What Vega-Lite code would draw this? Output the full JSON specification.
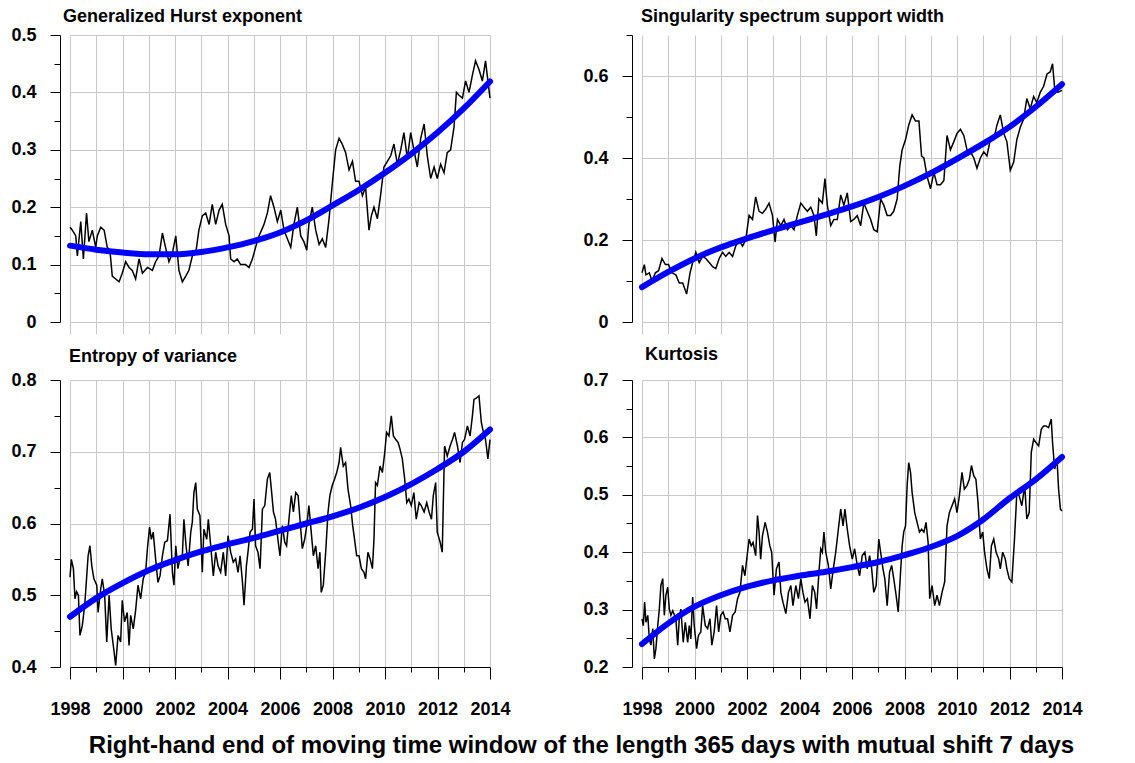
{
  "$schema": "https://vega.github.io/schema/vega-lite/v6.json",
  "background": "white",
  "padding": {"left": 10, "top": 8, "right": 5, "bottom": 5},
  "config": {
    "font": "Liberation Sans",
    "view": {"stroke": null},
    "axis": {
      "domainColor": "black", "tickColor": "black", "labelColor": "black",
      "labelFontSize": 18, "labelFontWeight": "bold", "gridColor": "#c8c8c8",
      "labelOverlap": false, "labelFlush": false, "tickWidth": 1, "domainWidth": 1, "gridWidth": 1
    },
    "axisY": {"labelPadding": 14},
    "axisX": {"labelPadding": 21}
  },
  "title": {"text": "Right-hand end of moving time window of the length 365 days with mutual shift 7 days", "orient": "bottom", "anchor": "middle", "frame": "bounds", "dx": 35, "fontSize": 24, "fontWeight": "bold", "color": "black", "offset": 16},
  "datasets": {
    "hr": [
      {"t":1998.00,"v":0.165},{"t":1998.09,"v":0.16},{"t":1998.22,"v":0.15},{"t":1998.28,"v":0.115},{"t":1998.41,"v":0.175},{"t":1998.51,"v":0.11},{"t":1998.63,"v":0.19},{"t":1998.72,"v":0.14},{"t":1998.85,"v":0.16},{"t":1998.98,"v":0.13},
      {"t":1999.04,"v":0.15},{"t":1999.17,"v":0.165},{"t":1999.30,"v":0.16},{"t":1999.42,"v":0.13},{"t":1999.52,"v":0.125},{"t":1999.61,"v":0.08},{"t":1999.74,"v":0.075},{"t":1999.87,"v":0.07},{"t":1999.99,"v":0.085},
      {"t":2000.12,"v":0.105},{"t":2000.25,"v":0.095},{"t":2000.37,"v":0.09},{"t":2000.50,"v":0.075},{"t":2000.63,"v":0.11},{"t":2000.76,"v":0.085},{"t":2000.95,"v":0.095},
      {"t":2001.14,"v":0.09},{"t":2001.26,"v":0.105},{"t":2001.39,"v":0.115},{"t":2001.52,"v":0.155},{"t":2001.64,"v":0.13},{"t":2001.77,"v":0.105},{"t":2001.90,"v":0.12},
      {"t":2002.03,"v":0.15},{"t":2002.15,"v":0.09},{"t":2002.28,"v":0.07},{"t":2002.41,"v":0.08},{"t":2002.53,"v":0.09},{"t":2002.66,"v":0.115},{"t":2002.79,"v":0.12},{"t":2002.91,"v":0.16},
      {"t":2003.04,"v":0.185},{"t":2003.17,"v":0.19},{"t":2003.30,"v":0.17},{"t":2003.42,"v":0.205},{"t":2003.55,"v":0.17},{"t":2003.68,"v":0.195},{"t":2003.80,"v":0.205},{"t":2003.93,"v":0.17},
      {"t":2004.06,"v":0.15},{"t":2004.12,"v":0.11},{"t":2004.25,"v":0.105},{"t":2004.37,"v":0.11},{"t":2004.50,"v":0.10},{"t":2004.69,"v":0.10},{"t":2004.82,"v":0.095},{"t":2004.95,"v":0.11},
      {"t":2005.07,"v":0.13},{"t":2005.20,"v":0.15},{"t":2005.39,"v":0.17},{"t":2005.52,"v":0.19},{"t":2005.64,"v":0.22},{"t":2005.77,"v":0.20},{"t":2005.90,"v":0.175},
      {"t":2006.03,"v":0.195},{"t":2006.15,"v":0.16},{"t":2006.28,"v":0.145},{"t":2006.41,"v":0.13},{"t":2006.53,"v":0.17},{"t":2006.66,"v":0.20},{"t":2006.79,"v":0.15},{"t":2006.91,"v":0.14},
      {"t":2007.02,"v":0.125},{"t":2007.10,"v":0.17},{"t":2007.23,"v":0.20},{"t":2007.36,"v":0.16},{"t":2007.49,"v":0.135},{"t":2007.61,"v":0.145},{"t":2007.74,"v":0.13},{"t":2007.87,"v":0.18},{"t":2007.99,"v":0.24},
      {"t":2008.12,"v":0.30},{"t":2008.25,"v":0.32},{"t":2008.37,"v":0.31},{"t":2008.50,"v":0.295},{"t":2008.63,"v":0.265},{"t":2008.76,"v":0.28},{"t":2008.88,"v":0.245},
      {"t":2009.01,"v":0.245},{"t":2009.14,"v":0.22},{"t":2009.26,"v":0.235},{"t":2009.39,"v":0.16},{"t":2009.48,"v":0.185},{"t":2009.58,"v":0.20},{"t":2009.71,"v":0.18},{"t":2009.83,"v":0.22},{"t":2009.96,"v":0.27},
      {"t":2010.09,"v":0.28},{"t":2010.22,"v":0.29},{"t":2010.34,"v":0.31},{"t":2010.47,"v":0.275},{"t":2010.60,"v":0.30},{"t":2010.72,"v":0.33},{"t":2010.85,"v":0.285},{"t":2010.98,"v":0.33},
      {"t":2011.10,"v":0.30},{"t":2011.23,"v":0.27},{"t":2011.36,"v":0.32},{"t":2011.49,"v":0.345},{"t":2011.61,"v":0.29},{"t":2011.74,"v":0.25},{"t":2011.87,"v":0.27},{"t":2011.99,"v":0.25},
      {"t":2012.12,"v":0.275},{"t":2012.25,"v":0.26},{"t":2012.37,"v":0.295},{"t":2012.50,"v":0.30},{"t":2012.63,"v":0.34},{"t":2012.72,"v":0.40},{"t":2012.82,"v":0.395},{"t":2012.95,"v":0.39},
      {"t":2013.07,"v":0.42},{"t":2013.20,"v":0.40},{"t":2013.33,"v":0.43},{"t":2013.45,"v":0.455},{"t":2013.58,"v":0.44},{"t":2013.71,"v":0.42},{"t":2013.83,"v":0.455},{"t":2013.92,"v":0.42},{"t":2014.00,"v":0.39}
    ],
    "ht": [
      {"t":1998,"v":0.133},{"t":1999,"v":0.126},{"t":2000,"v":0.121},{"t":2001,"v":0.118},{"t":2002,"v":0.118},{"t":2003,"v":0.122},{"t":2004,"v":0.13},{"t":2005,"v":0.141},{"t":2006,"v":0.156},
      {"t":2007,"v":0.177},{"t":2008,"v":0.203},{"t":2009,"v":0.23},{"t":2010,"v":0.26},{"t":2011,"v":0.293},{"t":2012,"v":0.33},{"t":2013,"v":0.372},{"t":2014,"v":0.419}
    ],
    "sr": [
      {"t":1998.00,"v":0.12},{"t":1998.09,"v":0.14},{"t":1998.15,"v":0.115},{"t":1998.28,"v":0.12},{"t":1998.38,"v":0.10},{"t":1998.51,"v":0.12},{"t":1998.63,"v":0.125},{"t":1998.76,"v":0.155},{"t":1998.89,"v":0.14},
      {"t":1999.01,"v":0.14},{"t":1999.14,"v":0.12},{"t":1999.29,"v":0.115},{"t":1999.42,"v":0.095},{"t":1999.55,"v":0.095},{"t":1999.70,"v":0.068},{"t":1999.83,"v":0.12},{"t":1999.93,"v":0.145},
      {"t":2000.05,"v":0.17},{"t":2000.18,"v":0.145},{"t":2000.31,"v":0.16},{"t":2000.43,"v":0.155},{"t":2000.56,"v":0.145},{"t":2000.69,"v":0.135},{"t":2000.81,"v":0.13},{"t":2000.94,"v":0.155},
      {"t":2001.07,"v":0.17},{"t":2001.19,"v":0.16},{"t":2001.32,"v":0.17},{"t":2001.45,"v":0.16},{"t":2001.57,"v":0.185},{"t":2001.70,"v":0.20},{"t":2001.83,"v":0.185},{"t":2001.95,"v":0.20},
      {"t":2002.08,"v":0.26},{"t":2002.21,"v":0.25},{"t":2002.33,"v":0.305},{"t":2002.46,"v":0.27},{"t":2002.59,"v":0.265},{"t":2002.71,"v":0.275},{"t":2002.84,"v":0.29},{"t":2002.97,"v":0.26},
      {"t":2003.07,"v":0.195},{"t":2003.16,"v":0.25},{"t":2003.29,"v":0.235},{"t":2003.41,"v":0.25},{"t":2003.54,"v":0.225},{"t":2003.67,"v":0.235},{"t":2003.79,"v":0.225},{"t":2003.92,"v":0.26},
      {"t":2004.05,"v":0.29},{"t":2004.17,"v":0.28},{"t":2004.30,"v":0.27},{"t":2004.43,"v":0.28},{"t":2004.55,"v":0.26},{"t":2004.64,"v":0.21},{"t":2004.74,"v":0.30},{"t":2004.87,"v":0.29},{"t":2004.97,"v":0.35},
      {"t":2005.06,"v":0.285},{"t":2005.19,"v":0.235},{"t":2005.31,"v":0.25},{"t":2005.44,"v":0.25},{"t":2005.57,"v":0.31},{"t":2005.69,"v":0.285},{"t":2005.82,"v":0.315},{"t":2005.95,"v":0.245},
      {"t":2006.07,"v":0.25},{"t":2006.20,"v":0.26},{"t":2006.33,"v":0.235},{"t":2006.45,"v":0.29},{"t":2006.58,"v":0.27},{"t":2006.71,"v":0.25},{"t":2006.83,"v":0.225},{"t":2006.96,"v":0.22},
      {"t":2007.09,"v":0.30},{"t":2007.21,"v":0.285},{"t":2007.34,"v":0.26},{"t":2007.47,"v":0.26},{"t":2007.59,"v":0.27},{"t":2007.72,"v":0.30},{"t":2007.82,"v":0.38},{"t":2007.91,"v":0.42},
      {"t":2008.04,"v":0.445},{"t":2008.16,"v":0.48},{"t":2008.29,"v":0.505},{"t":2008.42,"v":0.49},{"t":2008.55,"v":0.49},{"t":2008.65,"v":0.405},{"t":2008.74,"v":0.40},{"t":2008.86,"v":0.355},{"t":2008.99,"v":0.325},
      {"t":2009.12,"v":0.365},{"t":2009.24,"v":0.335},{"t":2009.37,"v":0.335},{"t":2009.50,"v":0.345},{"t":2009.62,"v":0.455},{"t":2009.75,"v":0.42},{"t":2009.88,"v":0.44},
      {"t":2010.00,"v":0.46},{"t":2010.13,"v":0.47},{"t":2010.26,"v":0.455},{"t":2010.38,"v":0.42},{"t":2010.51,"v":0.415},{"t":2010.64,"v":0.40},{"t":2010.76,"v":0.375},{"t":2010.89,"v":0.40},
      {"t":2011.02,"v":0.415},{"t":2011.14,"v":0.405},{"t":2011.27,"v":0.445},{"t":2011.40,"v":0.445},{"t":2011.52,"v":0.48},{"t":2011.65,"v":0.505},{"t":2011.78,"v":0.46},{"t":2011.90,"v":0.44},
      {"t":2012.03,"v":0.37},{"t":2012.16,"v":0.39},{"t":2012.28,"v":0.445},{"t":2012.41,"v":0.475},{"t":2012.54,"v":0.495},{"t":2012.66,"v":0.545},{"t":2012.79,"v":0.52},{"t":2012.92,"v":0.55},
      {"t":2013.04,"v":0.535},{"t":2013.17,"v":0.56},{"t":2013.30,"v":0.575},{"t":2013.43,"v":0.605},{"t":2013.55,"v":0.61},{"t":2013.64,"v":0.63},{"t":2013.72,"v":0.57},{"t":2013.84,"v":0.56},{"t":2014.00,"v":0.565}
    ],
    "st": [
      {"t":1998,"v":0.085},{"t":1999,"v":0.122},{"t":2000,"v":0.155},{"t":2001,"v":0.182},{"t":2002,"v":0.204},{"t":2003,"v":0.224},{"t":2004,"v":0.243},{"t":2005,"v":0.262},{"t":2006,"v":0.282},
      {"t":2007,"v":0.305},{"t":2008,"v":0.332},{"t":2009,"v":0.363},{"t":2010,"v":0.398},{"t":2011,"v":0.435},{"t":2012,"v":0.476},{"t":2013,"v":0.525},{"t":2014,"v":0.58}
    ],
    "er": [
      {"t":1998.00,"v":0.525},{"t":1998.05,"v":0.55},{"t":1998.13,"v":0.537},{"t":1998.19,"v":0.495},{"t":1998.25,"v":0.505},{"t":1998.32,"v":0.50},{"t":1998.38,"v":0.444},{"t":1998.47,"v":0.458},{"t":1998.56,"v":0.486},{"t":1998.63,"v":0.523},{"t":1998.69,"v":0.555},{"t":1998.76,"v":0.569},{"t":1998.83,"v":0.541},{"t":1998.91,"v":0.523},
      {"t":1999.02,"v":0.514},{"t":1999.07,"v":0.476},{"t":1999.17,"v":0.509},{"t":1999.23,"v":0.523},{"t":1999.32,"v":0.50},{"t":1999.40,"v":0.435},{"t":1999.49,"v":0.50},{"t":1999.57,"v":0.453},{"t":1999.68,"v":0.421},{"t":1999.74,"v":0.402},{"t":1999.83,"v":0.444},{"t":1999.93,"v":0.435},{"t":1999.99,"v":0.493},
      {"t":2000.08,"v":0.463},{"t":2000.18,"v":0.476},{"t":2000.25,"v":0.43},{"t":2000.31,"v":0.472},{"t":2000.41,"v":0.453},{"t":2000.50,"v":0.479},{"t":2000.59,"v":0.514},{"t":2000.69,"v":0.495},{"t":2000.79,"v":0.523},{"t":2000.88,"v":0.532},{"t":2000.95,"v":0.565},
      {"t":2001.03,"v":0.595},{"t":2001.10,"v":0.578},{"t":2001.17,"v":0.588},{"t":2001.26,"v":0.551},{"t":2001.35,"v":0.518},{"t":2001.43,"v":0.527},{"t":2001.52,"v":0.555},{"t":2001.61,"v":0.574},{"t":2001.71,"v":0.576},{"t":2001.81,"v":0.613},{"t":2001.90,"v":0.532},{"t":2001.96,"v":0.514},
      {"t":2002.03,"v":0.569},{"t":2002.11,"v":0.537},{"t":2002.19,"v":0.551},{"t":2002.28,"v":0.555},{"t":2002.34,"v":0.606},{"t":2002.42,"v":0.569},{"t":2002.50,"v":0.541},{"t":2002.60,"v":0.588},{"t":2002.66,"v":0.602},{"t":2002.72,"v":0.643},{"t":2002.79,"v":0.657},{"t":2002.85,"v":0.62},{"t":2002.95,"v":0.611},
      {"t":2003.04,"v":0.532},{"t":2003.10,"v":0.592},{"t":2003.21,"v":0.578},{"t":2003.27,"v":0.606},{"t":2003.36,"v":0.569},{"t":2003.46,"v":0.527},{"t":2003.55,"v":0.56},{"t":2003.64,"v":0.541},{"t":2003.74,"v":0.532},{"t":2003.84,"v":0.56},{"t":2003.93,"v":0.527},
      {"t":2004.02,"v":0.583},{"t":2004.12,"v":0.56},{"t":2004.22,"v":0.546},{"t":2004.31,"v":0.551},{"t":2004.40,"v":0.532},{"t":2004.48,"v":0.555},{"t":2004.57,"v":0.518},{"t":2004.63,"v":0.486},{"t":2004.72,"v":0.541},{"t":2004.78,"v":0.56},{"t":2004.86,"v":0.588},{"t":2004.95,"v":0.592},
      {"t":2005.01,"v":0.634},{"t":2005.07,"v":0.569},{"t":2005.16,"v":0.56},{"t":2005.24,"v":0.537},{"t":2005.33,"v":0.62},{"t":2005.42,"v":0.625},{"t":2005.52,"v":0.662},{"t":2005.61,"v":0.671},{"t":2005.67,"v":0.648},{"t":2005.75,"v":0.616},{"t":2005.83,"v":0.606},{"t":2005.92,"v":0.578},
      {"t":2006.00,"v":0.555},{"t":2006.09,"v":0.597},{"t":2006.18,"v":0.574},{"t":2006.25,"v":0.569},{"t":2006.34,"v":0.606},{"t":2006.43,"v":0.639},{"t":2006.51,"v":0.616},{"t":2006.60,"v":0.643},{"t":2006.69,"v":0.639},{"t":2006.76,"v":0.606},{"t":2006.85,"v":0.565},{"t":2006.94,"v":0.578},
      {"t":2007.02,"v":0.597},{"t":2007.10,"v":0.625},{"t":2007.19,"v":0.588},{"t":2007.27,"v":0.555},{"t":2007.36,"v":0.569},{"t":2007.45,"v":0.537},{"t":2007.52,"v":0.56},{"t":2007.57,"v":0.504},{"t":2007.65,"v":0.514},{"t":2007.74,"v":0.56},{"t":2007.83,"v":0.616},{"t":2007.90,"v":0.639},{"t":2007.99,"v":0.653},
      {"t":2008.08,"v":0.662},{"t":2008.16,"v":0.671},{"t":2008.25,"v":0.685},{"t":2008.31,"v":0.706},{"t":2008.41,"v":0.68},{"t":2008.50,"v":0.685},{"t":2008.59,"v":0.648},{"t":2008.69,"v":0.625},{"t":2008.77,"v":0.597},{"t":2008.84,"v":0.578},{"t":2008.92,"v":0.555},
      {"t":2009.01,"v":0.555},{"t":2009.10,"v":0.537},{"t":2009.20,"v":0.532},{"t":2009.26,"v":0.523},{"t":2009.35,"v":0.56},{"t":2009.43,"v":0.551},{"t":2009.52,"v":0.537},{"t":2009.58,"v":0.578},{"t":2009.64,"v":0.657},{"t":2009.71,"v":0.653},{"t":2009.81,"v":0.68},{"t":2009.90,"v":0.671},{"t":2009.99,"v":0.699},
      {"t":2010.06,"v":0.727},{"t":2010.15,"v":0.722},{"t":2010.24,"v":0.75},{"t":2010.32,"v":0.722},{"t":2010.41,"v":0.717},{"t":2010.50,"v":0.713},{"t":2010.57,"v":0.704},{"t":2010.66,"v":0.69},{"t":2010.75,"v":0.662},{"t":2010.83,"v":0.629},{"t":2010.91,"v":0.634},
      {"t":2011.00,"v":0.625},{"t":2011.10,"v":0.643},{"t":2011.19,"v":0.606},{"t":2011.30,"v":0.629},{"t":2011.38,"v":0.625},{"t":2011.49,"v":0.616},{"t":2011.59,"v":0.629},{"t":2011.68,"v":0.616},{"t":2011.77,"v":0.606},{"t":2011.84,"v":0.639},{"t":2011.93,"v":0.657},{"t":2011.99,"v":0.588},
      {"t":2012.10,"v":0.574},{"t":2012.18,"v":0.56},{"t":2012.27,"v":0.708},{"t":2012.37,"v":0.694},{"t":2012.48,"v":0.708},{"t":2012.57,"v":0.717},{"t":2012.65,"v":0.727},{"t":2012.76,"v":0.708},{"t":2012.86,"v":0.685},{"t":2012.95,"v":0.713},
      {"t":2013.03,"v":0.717},{"t":2013.14,"v":0.736},{"t":2013.24,"v":0.722},{"t":2013.33,"v":0.75},{"t":2013.39,"v":0.773},{"t":2013.49,"v":0.775},{"t":2013.58,"v":0.778},{"t":2013.67,"v":0.741},{"t":2013.75,"v":0.727},{"t":2013.83,"v":0.717},{"t":2013.92,"v":0.69},{"t":2014.00,"v":0.717}
    ],
    "et": [
      {"t":1998,"v":0.47},{"t":1999,"v":0.496},{"t":2000,"v":0.517},{"t":2001,"v":0.535},{"t":2002,"v":0.549},{"t":2003,"v":0.561},{"t":2004,"v":0.571},{"t":2005,"v":0.58},{"t":2006,"v":0.59},
      {"t":2007,"v":0.6},{"t":2008,"v":0.61},{"t":2009,"v":0.622},{"t":2010,"v":0.637},{"t":2011,"v":0.655},{"t":2012,"v":0.676},{"t":2013,"v":0.7},{"t":2014,"v":0.731}
    ],
    "kr": [
      {"t":1998.00,"v":0.284},{"t":1998.05,"v":0.272},{"t":1998.10,"v":0.313},{"t":1998.15,"v":0.278},{"t":1998.22,"v":0.29},{"t":1998.28,"v":0.249},{"t":1998.34,"v":0.238},{"t":1998.41,"v":0.267},{"t":1998.47,"v":0.214},{"t":1998.53,"v":0.232},{"t":1998.60,"v":0.272},{"t":1998.66,"v":0.301},{"t":1998.72,"v":0.342},{"t":1998.79,"v":0.354},{"t":1998.85,"v":0.29},{"t":1998.91,"v":0.325},{"t":1998.98,"v":0.339},
      {"t":1999.04,"v":0.301},{"t":1999.10,"v":0.29},{"t":1999.17,"v":0.298},{"t":1999.29,"v":0.284},{"t":1999.36,"v":0.238},{"t":1999.42,"v":0.284},{"t":1999.48,"v":0.301},{"t":1999.57,"v":0.243},{"t":1999.65,"v":0.278},{"t":1999.74,"v":0.243},{"t":1999.80,"v":0.272},{"t":1999.86,"v":0.249},{"t":1999.93,"v":0.322},{"t":1999.99,"v":0.272},
      {"t":2000.08,"v":0.232},{"t":2000.15,"v":0.255},{"t":2000.24,"v":0.261},{"t":2000.31,"v":0.307},{"t":2000.41,"v":0.272},{"t":2000.50,"v":0.267},{"t":2000.59,"v":0.284},{"t":2000.66,"v":0.238},{"t":2000.75,"v":0.261},{"t":2000.84,"v":0.307},{"t":2000.92,"v":0.261},
      {"t":2001.00,"v":0.29},{"t":2001.09,"v":0.296},{"t":2001.17,"v":0.284},{"t":2001.26,"v":0.284},{"t":2001.35,"v":0.261},{"t":2001.45,"v":0.29},{"t":2001.55,"v":0.296},{"t":2001.64,"v":0.319},{"t":2001.73,"v":0.33},{"t":2001.83,"v":0.377},{"t":2001.92,"v":0.359},{"t":2001.99,"v":0.388},
      {"t":2002.08,"v":0.423},{"t":2002.16,"v":0.411},{"t":2002.23,"v":0.417},{"t":2002.33,"v":0.394},{"t":2002.40,"v":0.464},{"t":2002.46,"v":0.435},{"t":2002.52,"v":0.388},{"t":2002.59,"v":0.429},{"t":2002.69,"v":0.452},{"t":2002.78,"v":0.435},{"t":2002.87,"v":0.411},{"t":2002.94,"v":0.40},
      {"t":2003.03,"v":0.325},{"t":2003.12,"v":0.371},{"t":2003.22,"v":0.383},{"t":2003.29,"v":0.33},{"t":2003.37,"v":0.313},{"t":2003.48,"v":0.293},{"t":2003.58,"v":0.33},{"t":2003.67,"v":0.342},{"t":2003.75,"v":0.307},{"t":2003.86,"v":0.342},{"t":2003.96,"v":0.319},
      {"t":2004.05,"v":0.354},{"t":2004.13,"v":0.33},{"t":2004.21,"v":0.313},{"t":2004.30,"v":0.319},{"t":2004.40,"v":0.284},{"t":2004.49,"v":0.342},{"t":2004.58,"v":0.33},{"t":2004.65,"v":0.301},{"t":2004.74,"v":0.365},{"t":2004.81,"v":0.406},{"t":2004.87,"v":0.40},{"t":2004.93,"v":0.435},
      {"t":2005.00,"v":0.40},{"t":2005.10,"v":0.377},{"t":2005.19,"v":0.336},{"t":2005.27,"v":0.365},{"t":2005.38,"v":0.40},{"t":2005.48,"v":0.44},{"t":2005.57,"v":0.475},{"t":2005.66,"v":0.446},{"t":2005.73,"v":0.475},{"t":2005.82,"v":0.44},{"t":2005.91,"v":0.411},
      {"t":2006.01,"v":0.388},{"t":2006.10,"v":0.406},{"t":2006.20,"v":0.377},{"t":2006.29,"v":0.359},{"t":2006.39,"v":0.394},{"t":2006.49,"v":0.40},{"t":2006.58,"v":0.371},{"t":2006.67,"v":0.394},{"t":2006.75,"v":0.371},{"t":2006.83,"v":0.33},{"t":2006.92,"v":0.342},
      {"t":2007.02,"v":0.423},{"t":2007.09,"v":0.40},{"t":2007.18,"v":0.371},{"t":2007.25,"v":0.354},{"t":2007.34,"v":0.307},{"t":2007.43,"v":0.365},{"t":2007.51,"v":0.377},{"t":2007.59,"v":0.354},{"t":2007.68,"v":0.325},{"t":2007.76,"v":0.296},{"t":2007.85,"v":0.365},{"t":2007.91,"v":0.411},{"t":2007.97,"v":0.435},
      {"t":2008.04,"v":0.446},{"t":2008.10,"v":0.516},{"t":2008.16,"v":0.556},{"t":2008.23,"v":0.539},{"t":2008.29,"v":0.504},{"t":2008.39,"v":0.469},{"t":2008.48,"v":0.452},{"t":2008.57,"v":0.435},{"t":2008.65,"v":0.44},{"t":2008.74,"v":0.435},{"t":2008.82,"v":0.452},{"t":2008.90,"v":0.417},{"t":2008.96,"v":0.319},
      {"t":2009.05,"v":0.342},{"t":2009.15,"v":0.307},{"t":2009.24,"v":0.325},{"t":2009.33,"v":0.307},{"t":2009.43,"v":0.33},{"t":2009.53,"v":0.348},{"t":2009.62,"v":0.446},{"t":2009.71,"v":0.469},{"t":2009.81,"v":0.481},{"t":2009.91,"v":0.493},
      {"t":2010.00,"v":0.469},{"t":2010.09,"v":0.498},{"t":2010.19,"v":0.539},{"t":2010.28,"v":0.51},{"t":2010.38,"v":0.516},{"t":2010.47,"v":0.527},{"t":2010.55,"v":0.551},{"t":2010.64,"v":0.533},{"t":2010.72,"v":0.527},{"t":2010.80,"v":0.487},{"t":2010.89,"v":0.423},{"t":2010.98,"v":0.435},
      {"t":2011.05,"v":0.40},{"t":2011.14,"v":0.371},{"t":2011.23,"v":0.354},{"t":2011.31,"v":0.411},{"t":2011.40,"v":0.423},{"t":2011.49,"v":0.40},{"t":2011.59,"v":0.388},{"t":2011.65,"v":0.371},{"t":2011.74,"v":0.40},{"t":2011.84,"v":0.388},{"t":2011.90,"v":0.371},{"t":2011.99,"v":0.354},
      {"t":2012.09,"v":0.348},{"t":2012.19,"v":0.423},{"t":2012.28,"v":0.504},{"t":2012.37,"v":0.498},{"t":2012.47,"v":0.481},{"t":2012.58,"v":0.516},{"t":2012.66,"v":0.458},{"t":2012.75,"v":0.469},{"t":2012.83,"v":0.574},{"t":2012.92,"v":0.597},
      {"t":2013.01,"v":0.591},{"t":2013.11,"v":0.585},{"t":2013.21,"v":0.614},{"t":2013.30,"v":0.62},{"t":2013.39,"v":0.62},{"t":2013.49,"v":0.617},{"t":2013.59,"v":0.632},{"t":2013.64,"v":0.591},{"t":2013.72,"v":0.545},{"t":2013.81,"v":0.562},{"t":2013.87,"v":0.51},{"t":2013.94,"v":0.475},{"t":2014.00,"v":0.472}
    ],
    "kt": [
      {"t":1998,"v":0.24},{"t":1999,"v":0.276},{"t":2000,"v":0.305},{"t":2001,"v":0.325},{"t":2002,"v":0.34},{"t":2003,"v":0.351},{"t":2004,"v":0.359},{"t":2005,"v":0.366},{"t":2006,"v":0.374},
      {"t":2007,"v":0.383},{"t":2008,"v":0.395},{"t":2009,"v":0.409},{"t":2010,"v":0.428},{"t":2011,"v":0.457},{"t":2012,"v":0.494},{"t":2013,"v":0.527},{"t":2014,"v":0.566}
    ]
  },
  "bounds": "flush",
  "columns": 2,
  "spacing": {"row": 58, "column": 152},
  "concat": [
    {
      "width": 420, "height": 287,
      "title": {"text": "Generalized Hurst exponent", "anchor": "start", "frame": "group", "baseline": "alphabetic", "offset": -14, "dx": -7, "fontSize": 18, "fontWeight": "bold", "color": "black"},
      "encoding": {
        "x": {"field": "t", "type": "quantitative", "scale": {"domain": [1998, 2014], "nice": false, "zero": false},
              "axis": {"title": null, "values": [1998,1999,2000,2001,2002,2003,2004,2005,2006,2007,2008,2009,2010,2011,2012,2013,2014], "labels": false, "domain": false, "tickColor": "#c8c8c8",
                       "tickSize": {"condition": {"test": "datum.value <= 2006", "value": 12}, "value": 58}}},
        "y": {"field": "v", "type": "quantitative", "scale": {"domain": [0, 0.5], "nice": false, "zero": false},
              "axis": {"title": null, "offset": 10, "values": [0,0.05,0.1,0.15,0.2,0.25,0.3,0.35,0.4,0.45,0.5],
                       "labelExpr": "abs(datum.value*10-round(datum.value*10))>0.01 ? '' : format(datum.value,'.1~f')",
                       "tickSize": {"condition": {"test": "abs(datum.value*10-round(datum.value*10))>0.01", "value": 6}, "value": 10},
                       "gridOpacity": {"condition": {"test": "abs(datum.value*10-round(datum.value*10))>0.01", "value": 0}, "value": 1}}}
      },
      "layer": [
        {"data": {"name": "hr"}, "mark": {"type": "line", "color": "black", "strokeWidth": 1.5}},
        {"data": {"name": "ht"}, "mark": {"type": "line", "color": "#0000ff", "strokeWidth": 6, "strokeCap": "round", "interpolate": "monotone"}}
      ]
    },
    {
      "width": 420, "height": 287,
      "title": {"text": "Singularity spectrum support width", "anchor": "start", "frame": "group", "baseline": "alphabetic", "offset": -14, "dx": -1, "fontSize": 18, "fontWeight": "bold", "color": "black"},
      "encoding": {
        "x": {"field": "t", "type": "quantitative", "scale": {"domain": [1998, 2014], "nice": false, "zero": false},
              "axis": {"title": null, "values": [1998,1999,2000,2001,2002,2003,2004,2005,2006,2007,2008,2009,2010,2011,2012,2013,2014], "labels": false, "domain": false, "tickColor": "#c8c8c8",
                       "tickSize": {"condition": {"test": "datum.value <= 2001", "value": 12}, "value": 58}}},
        "y": {"field": "v", "type": "quantitative", "scale": {"domain": [0, 0.7], "nice": false, "zero": false},
              "axis": {"title": null, "offset": 10, "values": [0,0.1,0.2,0.3,0.4,0.5,0.6,0.7],
                       "labelExpr": "abs(datum.value*5-round(datum.value*5))>0.01 ? '' : format(datum.value,'.1~f')",
                       "tickSize": {"condition": {"test": "abs(datum.value*5-round(datum.value*5))>0.01", "value": 6}, "value": 10},
                       "gridOpacity": {"condition": {"test": "abs(datum.value*5-round(datum.value*5))>0.01", "value": 0}, "value": 1}}}
      },
      "layer": [
        {"data": {"name": "sr"}, "mark": {"type": "line", "color": "black", "strokeWidth": 1.5}},
        {"data": {"name": "st"}, "mark": {"type": "line", "color": "#0000ff", "strokeWidth": 6, "strokeCap": "round", "interpolate": "monotone"}}
      ]
    },
    {
      "width": 420, "height": 287,
      "title": {"text": "Entropy of variance", "anchor": "start", "frame": "group", "baseline": "alphabetic", "offset": -9, "dx": -1, "fontSize": 18, "fontWeight": "bold", "color": "black"},
      "encoding": {
        "x": {"field": "t", "type": "quantitative", "scale": {"domain": [1998, 2014], "nice": false, "zero": false},
              "axis": {"title": null, "values": [1998,1999,2000,2001,2002,2003,2004,2005,2006,2007,2008,2009,2010,2011,2012,2013,2014],
                       "labelExpr": "datum.value % 2 == 0 ? format(datum.value, 'd') : ''",
                       "tickSize": {"condition": {"test": "datum.value % 2 != 0", "value": 5}, "value": 12}}},
        "y": {"field": "v", "type": "quantitative", "scale": {"domain": [0.4, 0.8], "nice": false, "zero": false},
              "axis": {"title": null, "offset": 10, "values": [0.4,0.45,0.5,0.55,0.6,0.65,0.7,0.75,0.8],
                       "labelExpr": "abs(datum.value*10-round(datum.value*10))>0.01 ? '' : format(datum.value,'.1~f')",
                       "tickSize": {"condition": {"test": "abs(datum.value*10-round(datum.value*10))>0.01", "value": 6}, "value": 10},
                       "gridOpacity": {"condition": {"test": "abs(datum.value*10-round(datum.value*10))>0.01", "value": 0}, "value": 1}}}
      },
      "layer": [
        {"data": {"name": "er"}, "mark": {"type": "line", "color": "black", "strokeWidth": 1.5}},
        {"data": {"name": "et"}, "mark": {"type": "line", "color": "#0000ff", "strokeWidth": 6, "strokeCap": "round", "interpolate": "monotone"}}
      ]
    },
    {
      "width": 420, "height": 287,
      "title": {"text": "Kurtosis", "anchor": "start", "frame": "group", "baseline": "alphabetic", "offset": -7, "dx": 3, "fontSize": 18, "fontWeight": "bold", "color": "black"},
      "encoding": {
        "x": {"field": "t", "type": "quantitative", "scale": {"domain": [1998, 2014], "nice": false, "zero": false},
              "axis": {"title": null, "values": [1998,1999,2000,2001,2002,2003,2004,2005,2006,2007,2008,2009,2010,2011,2012,2013,2014],
                       "labelExpr": "datum.value % 2 == 0 ? format(datum.value, 'd') : ''",
                       "tickSize": {"condition": {"test": "datum.value % 2 != 0", "value": 5}, "value": 12}}},
        "y": {"field": "v", "type": "quantitative", "scale": {"domain": [0.2, 0.7], "nice": false, "zero": false},
              "axis": {"title": null, "offset": 10, "values": [0.2,0.25,0.3,0.35,0.4,0.45,0.5,0.55,0.6,0.65,0.7],
                       "labelExpr": "abs(datum.value*10-round(datum.value*10))>0.01 ? '' : format(datum.value,'.1~f')",
                       "tickSize": {"condition": {"test": "abs(datum.value*10-round(datum.value*10))>0.01", "value": 6}, "value": 10},
                       "gridOpacity": {"condition": {"test": "abs(datum.value*10-round(datum.value*10))>0.01", "value": 0}, "value": 1}}}
      },
      "layer": [
        {"data": {"name": "kr"}, "mark": {"type": "line", "color": "black", "strokeWidth": 1.5}},
        {"data": {"name": "kt"}, "mark": {"type": "line", "color": "#0000ff", "strokeWidth": 6, "strokeCap": "round", "interpolate": "monotone"}}
      ]
    }
  ]
}
